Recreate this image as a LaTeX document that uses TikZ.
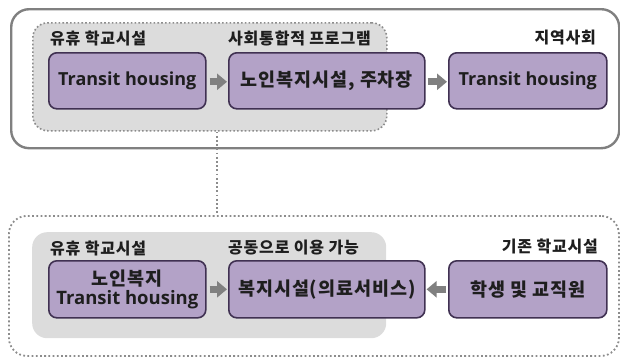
\documentclass[tikz,border=0pt]{standalone}
\usepackage{fontspec}
\setmainfont{Noto Sans CJK KR}[LetterSpace=5]
\newfontfamily\osans{Open Sans}
\usetikzlibrary{arrows.meta,calc}
\definecolor{boxfill}{HTML}{B3A2C7}
\definecolor{boxline}{HTML}{403152}
\definecolor{regfill}{HTML}{DCDCDC}
\definecolor{outline}{HTML}{808080}
\definecolor{dotcol}{HTML}{8C8C8C}
\definecolor{arrcol}{HTML}{808080}
\definecolor{txt}{HTML}{1E1E1E}
\tikzset{
  purplebox/.style={draw=boxline, fill=boxfill, line width=1.6pt, rounded corners=8pt,
    anchor=north west, inner sep=0pt, align=center, text=txt,
    font=\fontsize{18.5}{21}\selectfont\bfseries},
  outerbox/.style={draw=outline, line width=2.4pt, rounded corners=18pt, anchor=north west, inner sep=0pt},
  dotbox/.style={draw=dotcol, line width=1.8pt, dash pattern=on 1.8pt off 2.4pt, rounded corners=18pt, anchor=north west, inner sep=0pt},
  region/.style={fill=regfill, rounded corners=15pt, anchor=north west, inner sep=0pt},
  dotregion/.style={region, draw=dotcol, line width=1.6pt, dash pattern=on 1.6pt off 2.2pt},
  lbl/.style={inner sep=0pt, text=txt, font=\fontsize{16}{18}\selectfont\bfseries},
  blockarr/.style={draw=arrcol, line width=7pt, -{Triangle[width=16pt,length=10pt]}, shorten >=0pt},
  dotline/.style={draw=dotcol, line width=1.8pt, dash pattern=on 1.8pt off 2.4pt},
  latin/.style={font=\osans\fontsize{18}{21}\selectfont\bfseries},
}
\begin{document}
\begin{tikzpicture}[x=1pt,y=-1pt]
\useasboundingbox (0,0) rectangle (620,356);
% top group
\node[outerbox, minimum width=608pt, minimum height=139pt] (topouter) at (10,8) {};
\node[dotregion, minimum width=354pt, minimum height=108pt] (topreg) at (32,22) {};
\node[lbl, anchor=west] (l1) at (50,38) {유휴 학교시설};
\node[lbl, anchor=west] (l2) at (228,38) {사회통합적 프로그램};
\node[lbl, anchor=east] (l3) at (596,38) {지역사회};
\node[purplebox, latin, minimum width=157pt, minimum height=56pt] (t1) at (48,52) {Transit housing};
\node[purplebox, minimum width=196pt, minimum height=56pt] (t2) at (228,52) {노인복지시설, 주차장};
\node[purplebox, latin, minimum width=158pt, minimum height=56pt] (t3) at (448,52) {Transit housing};
\draw[blockarr] ($(t1.east)+(3,1)$) -- ($(t2.west)+(-1,1)$);
\draw[blockarr] ($(t2.east)+(2,1)$) -- ($(t3.west)+(-1,1)$);
% bottom group
\node[dotbox, minimum width=610pt, minimum height=140pt] (botouter) at (8,215) {};
\node[region, minimum width=354pt, minimum height=106pt] (botreg) at (32,232) {};
\node[lbl, anchor=west] (m1) at (50,248) {유휴 학교시설};
\node[lbl, anchor=west] (m2) at (228,248) {공동으로 이용 가능};
\node[lbl, anchor=east] (m3) at (598,246) {기존 학교시설};
\node[purplebox, minimum width=157pt, minimum height=57pt] (b1) at (48,260) {노인복지\\[-2pt]{\osans Transit housing}};
\node[purplebox, minimum width=196pt, minimum height=57pt] (b2) at (228,260) {복지시설(의료서비스)};
\node[purplebox, minimum width=158pt, minimum height=57pt] (b3) at (448,260) {학생 및 교직원};
\draw[blockarr] ($(b1.east)+(3,0)$) -- ($(b2.west)+(-1,0)$);
\draw[blockarr] ($(b3.west)+(-2,0)$) -- ($(b2.east)+(1,0)$);
% connector
\coordinate (cx) at ($(t1.east)!0.5!(t2.west)$);
\draw[dotline] (topreg.south -| cx) -- (botouter.north -| cx);
\end{tikzpicture}
\end{document}
